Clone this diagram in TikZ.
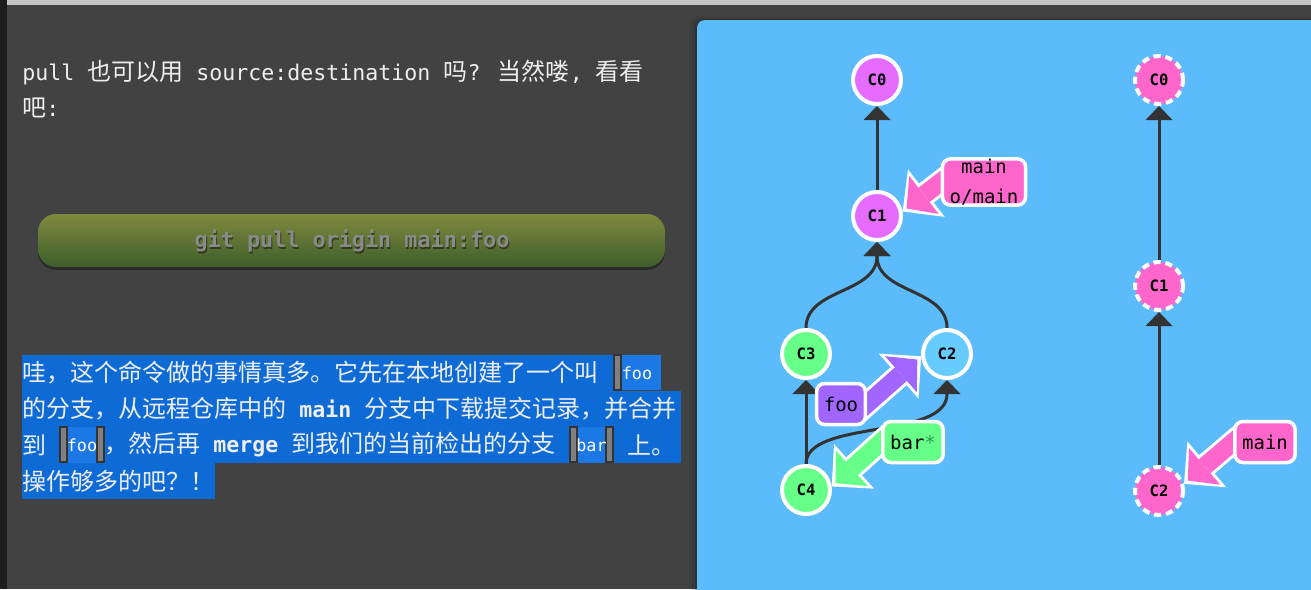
\documentclass[tikz,border=0pt]{standalone}
\usepackage{fontspec}
\newfontfamily\cjkfont{Noto Sans CJK SC}
\newfontfamily\codefont{DejaVu Sans Mono}
\usetikzlibrary{arrows.meta, positioning, calc}

\definecolor{pagebg}{HTML}{424242}
\definecolor{topbar}{HTML}{C6C6C6}
\definecolor{edgedark}{HTML}{1E1E1E}
\definecolor{panelblue}{HTML}{5CBBFA}
\definecolor{txtlight}{HTML}{EEEEEE}
\definecolor{selblue}{HTML}{0E6BD6}
\definecolor{chipblue}{HTML}{1B78E4}
\definecolor{chipgray}{HTML}{808080}
\definecolor{chipedge}{HTML}{333333}
\definecolor{btntop}{HTML}{80893F}
\definecolor{btnbot}{HTML}{3E5E2A}
\definecolor{btntext}{HTML}{8A8A8A}
\definecolor{violetc}{HTML}{E66BFF}
\definecolor{pinkc}{HTML}{FF66CC}
\definecolor{greenc}{HTML}{66FF88}
\definecolor{skyc}{HTML}{66CCFF}
\definecolor{purplec}{HTML}{A066FF}
\definecolor{edgegray}{HTML}{333333}
\definecolor{stargreen}{HTML}{2E9E4F}

\newcommand\cmdtxt[1]{{\codefont\fontsize{10.8}{14}\selectfont #1}}
\newcommand\cmdbold[1]{{\codefont\bfseries\fontsize{10.8}{14}\selectfont #1}}

\pgfdeclarelayer{back}
\pgfdeclarelayer{mid}
\pgfsetlayers{back,mid,main}

\begin{document}
\begin{tikzpicture}[x=0.5pt, y=-0.5pt,
  commit/.style={circle, fill=#1, draw=white, line width=2pt, minimum size=24pt, inner sep=0pt,
    font=\codefont\bfseries\fontsize{7.8}{9}\selectfont},
  ghost/.style={commit=#1, dash pattern=on 3.6pt off 2.4pt},
  branch/.style={fill=#1, draw=white, line width=1.75pt, rounded corners=4pt, inner xsep=3.6pt,
    inner ysep=0pt, minimum height=20.5pt, align=center, font=\codefont\fontsize{9.5}{15}\selectfont},
  toparent/.style={draw=edgegray, line width=1.5pt, -{Triangle[width=13.5pt, length=7pt, line width=0pt]}},
  fatarrow/.style={draw=#1, line width=9pt, shorten >=2.5pt, shorten <=-6pt,
    -{Triangle[width=24pt, length=11pt, line width=0pt]},
    preaction={draw=white, line width=12pt, shorten >=0pt, shorten <=-6pt,
      -{Triangle[width=30pt, length=15pt, line width=0pt]}}},
  txt/.style={text=txtlight, inner sep=0pt, anchor=west, font=\cjkfont\fontsize{12}{14}\selectfont},
  chiptxt/.style={text=white, inner sep=0pt, font=\codefont\fontsize{8.4}{10}\selectfont},
  cmdfont/.style={font=\codefont\bfseries\fontsize{10.9}{13}\selectfont}
]
\useasboundingbox (0,0) rectangle (1311,589);

% ============================================================
% Background
% ============================================================
\begin{pgfonlayer}{back}
\fill[pagebg] (0,0) rectangle (1311,589);
\fill[edgedark] (0,0) rectangle (7,589);
\fill[topbar] (7,0) rectangle (1311,5);
% panel shadow
\foreach \d/\op in {8/0.05, 5/0.08, 2/0.15}
  \fill[black, opacity=\op, rounded corners=5pt] ({697-\d},{20-\d/2}) rectangle (1320,600);
\fill[panelblue, rounded corners=4pt] (697,20) rectangle (1320,600);
\end{pgfonlayer}

% ============================================================
% Left: text and command
% ============================================================
\node[txt] (intro1) at (22,73) {\cmdtxt{pull }也可以用\cmdtxt{ source:destination }吗\cmdtxt{? }当然喽\cmdtxt{, }看看};
\node[txt] (intro2) at (22,108) {吧\cmdtxt{:}};

% Command button
\fill[black, opacity=0.35, rounded corners=9pt] (38,216) rectangle (665,270);
\shade[top color=btntop, bottom color=btnbot, rounded corners=9pt] (38,214) rectangle (665,267);
\node[cmdfont, text=black, opacity=0.45] (cmdshadow) at (353,243) {git pull origin main:foo};
\node[cmdfont, text=btntext] (cmd) at (352,241) {git pull origin main:foo};

% Selected paragraph
\foreach \ya/\xb in {355/613, 391/681, 427/681, 463/215}
  \fill[selblue] (22,\ya) rectangle (\xb,{\ya+36});

% code chips
\fill[chipblue] (622,355) rectangle (661,390);
\fill[chipblue] (67,427) rectangle (97,463);
\fill[chipblue] (577,427) rectangle (606,463);
\foreach \xa/\ya in {614/355, 60/427, 97/427, 570/427, 606/427}
  \draw[chipedge, fill=chipgray, line width=0.6pt] (\xa,\ya) rectangle ({\xa+7},{\ya+35});
\node[chiptxt] (chipfoo1) at (637,373) {foo};
\node[chiptxt] (chipfoo2) at (82,445) {foo};
\node[chiptxt] (chipbar) at (591.5,445) {bar};

\node[txt] (para1) at (22,373) {哇，这个命令做的事情真多。它先在本地创建了一个叫};
\node[txt] (para2) at (22,409) {的分支，从远程仓库中的\cmdbold{ main }分支中下载提交记录，并合并};
\node[txt] (para3a) at (22,445) {到};
\node[txt] (para3b) at (104,445) {，然后再\cmdbold{ merge }到我们的当前检出的分支};
\node[txt] (para3c) at (627,445) {上。};
\node[txt] (para4) at (22,481) {操作够多的吧？！};

% ============================================================
% Right panel: local tree
% ============================================================
\node[commit=violetc] (C0) at (877,80) {C0};
\node[commit=violetc] (C1) at (877,216) {C1};
\node[commit=greenc] (C3) at (806,354) {C3};
\node[commit=skyc] (C2) at (947,354) {C2};
\node[commit=greenc] (C4) at (806,490) {C4};

\node[branch=pinkc] (mainlbl) at (984,182) {main\\o/main};
\node[branch=purplec] (foolbl) at (841,404) {foo};
\node[branch=greenc] (barlbl) at (913,442) {bar\textcolor{stargreen}{*}};

% remote tree
\node[ghost=pinkc] (rC0) at (1159,80) {C0};
\node[ghost=pinkc] (rC1) at (1159,286) {C1};
\node[ghost=pinkc] (rC2) at (1159,491) {C2};
\node[branch=pinkc] (rmainlbl) at (1265,442) {main};

\begin{pgfonlayer}{mid}
\draw[toparent] (C1) -- (C0);
\draw[toparent] (C3.north) .. controls +(0,-40) and +(0,52) .. (C1.south);
\draw[toparent] (C2.north) .. controls +(0,-40) and +(0,52) .. (C1.south);
\draw[toparent] (C4) -- (C3);
\draw[toparent] (C4.north) .. controls +(0,-45) and +(0,60) .. (C2.south);
\draw[toparent] (rC1) -- (rC0);
\draw[toparent] (rC2) -- (rC1);

% branch pointers
\draw[fatarrow=pinkc] (mainlbl.west) -- (C1.10);
\draw[fatarrow=purplec] (foolbl.east) -- (C2.185);
\draw[fatarrow=greenc] (barlbl.west) -- (C4.8);
\draw[fatarrow=pinkc] (rmainlbl.west) -- (rC2.16);
\end{pgfonlayer}

\end{tikzpicture}
\end{document}
